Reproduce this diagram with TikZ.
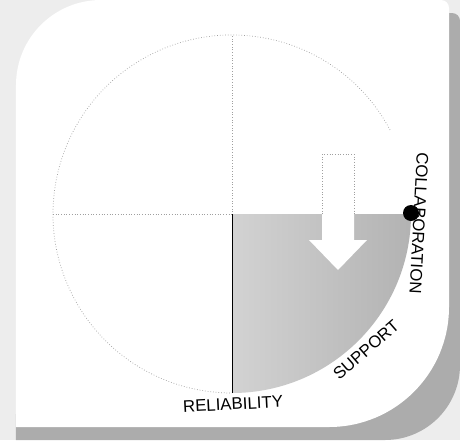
\documentclass[tikz,border=0pt]{standalone}
\usepackage{fontspec}
\setmainfont{Liberation Sans}
\usetikzlibrary{positioning}

\begin{document}
\begin{tikzpicture}[x=0.5pt,y=0.5pt,
    lbl/.style={font=\fontsize{8.4}{10}\selectfont,inner sep=0pt},
    guide/.style={gray!75,densely dotted,line width=0.35pt}]
  \useasboundingbox (-232,-226) rectangle (228,214);
  \fill[gray!14] (-232,-226) rectangle (228,214);
  % shadow and card
  \fill[gray!65] (-216,-226) -- (-216,-200) -- (-205,-200) -- (-205,116)
    arc[start angle=180,end angle=90,radius=85] -- (220,201)
    arc[start angle=90,end angle=0,radius=8] -- (228,-151)
    arc[start angle=0,end angle=-90,radius=75] -- cycle;
  \fill[white] (-216,-213) -- (-216,129) arc[start angle=180,end angle=90,radius=85]
    -- (209,214) arc[start angle=90,end angle=0,radius=8]
    -- (217,-93) arc[start angle=0,end angle=-90,radius=120] -- cycle;
  % circle and quadrant
  \shade[left color=gray!35,right color=gray!60] (0,0) -- (179,0)
    arc[start angle=0,end angle=-90,radius=179] -- cycle;
  \draw[guide] (28:179) arc[start angle=28,end angle=270,radius=179];
  \draw[guide] (-179,0) -- (0,0) -- (0,179);
  \draw[line width=0.4pt] (0,0) -- (0,-179);
  % arrow
  \fill[white] (90,60) -- (122,60) -- (122,-26) -- (135,-26) -- (106,-56)
    -- (77,-26) -- (90,-26) -- cycle;
  \draw[guide] (90,0) -- (90,60) -- (122,60) -- (122,0);
  \node[circle,fill=black,minimum size=8pt,inner sep=0pt] (dot) at (179,1) {};
  \node[lbl,rotate=-93] (collab) at (187,-9) {COLLABORATION};
  \node[lbl,rotate=41] (support) at (134,-136) {SUPPORT};
  \node[lbl,rotate=3] (reliab) at (1,-190) {RELIABILITY};
\end{tikzpicture}
\end{document}
